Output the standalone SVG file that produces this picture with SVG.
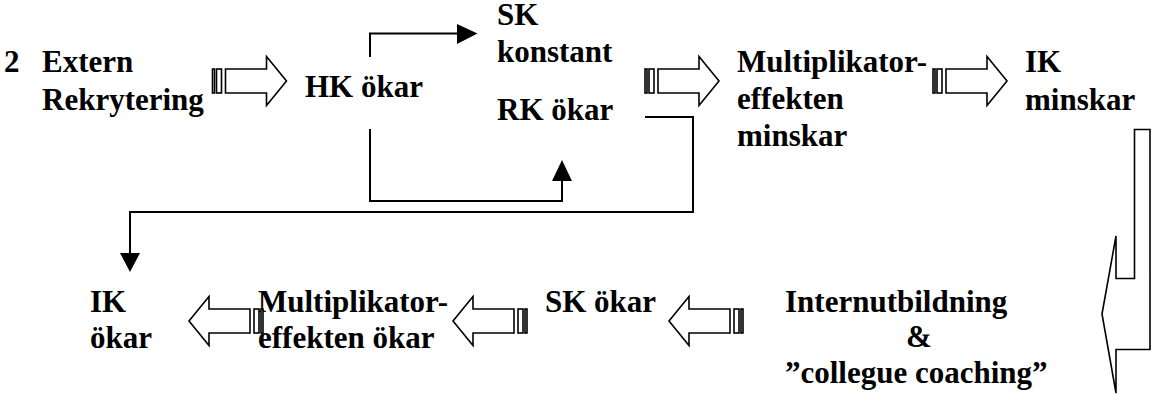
<svg xmlns="http://www.w3.org/2000/svg" xmlns:xlink="http://www.w3.org/1999/xlink" width="1152" height="394" viewBox="0 0 1152 394">
  <style>
    text { font-family: "Liberation Serif", serif; font-weight: 700; font-size: 31px; fill: #000; }
    .block { fill: #fff; stroke: #000; stroke-width: 1.6; stroke-linejoin: miter; }
    .conn { fill: none; stroke: #000; stroke-width: 2; }
    .head { fill: #000; stroke: none; }
  </style>
  <defs>
    <!-- striped block arrow, pointing right, origin at the tail stripes, centred on y=0 -->
    <g id="striped-arrow" class="block">
      <rect x="0" y="-12" width="2" height="24"/>
      <rect x="4" y="-12" width="5" height="24"/>
      <path d="M13,-12 H54 V-24.5 L74,0 L54,24.5 V12 H13 Z"/>
    </g>
  </defs>

  <rect width="1152" height="394" fill="#fff"/>

  <!-- top row -->
  <g id="extern">
    <text x="4" y="72">2</text>
    <text x="42" y="72">Extern</text>
    <text x="42" y="110">Rekrytering</text>
  </g>
  <g id="hk-okar">
    <text x="305" y="97">HK ökar</text>
  </g>
  <g id="sk-konstant">
    <text x="497" y="25">SK</text>
    <text x="497" y="62">konstant</text>
  </g>
  <g id="rk-okar">
    <text x="497" y="120">RK ökar</text>
  </g>
  <g id="mult-minskar">
    <text x="737" y="72">Multiplikator-</text>
    <text x="737" y="109">effekten</text>
    <text x="737" y="146">minskar</text>
  </g>
  <g id="ik-minskar">
    <text x="1025" y="72">IK</text>
    <text x="1025" y="110">minskar</text>
  </g>

  <!-- bottom row -->
  <g id="ik-okar">
    <text x="90" y="312">IK</text>
    <text x="90" y="348">ökar</text>
  </g>
  <g id="mult-okar">
    <text x="258" y="312">Multiplikator-</text>
    <text x="258" y="348">effekten ökar</text>
  </g>
  <g id="sk-okar">
    <text x="545" y="312">SK ökar</text>
  </g>
  <g id="internutbildning">
    <text x="785" y="312">Internutbildning</text>
    <text x="906" y="347">&amp;</text>
    <text x="785" y="383">”collegue coaching”</text>
  </g>

  <!-- connectors -->
  <g id="connectors">
    <use xlink:href="#striped-arrow" transform="translate(212.5,81)"/>
    <use xlink:href="#striped-arrow" transform="translate(645,81)"/>
    <use xlink:href="#striped-arrow" transform="translate(933,81)"/>

    <use xlink:href="#striped-arrow" transform="translate(263,321) scale(-1,1)"/>
    <use xlink:href="#striped-arrow" transform="translate(527,321) scale(-1,1)"/>
    <use xlink:href="#striped-arrow" transform="translate(743,321) scale(-1,1)"/>

    <!-- bent arrow from IK minskar down to Internutbildning -->
    <path class="block" d="M1134.5,129.5 H1150 V349.5 H1116 V393 L1102,314 L1116,236 V278.5 H1134.5 Z"/>

    <!-- HK ökar to SK konstant -->
    <path class="conn" d="M370,57 V33.5 H458"/>
    <polygon class="head" points="457,24 477.5,33.5 457,44"/>

    <!-- HK ökar to RK ökar -->
    <path class="conn" d="M370,129 V201 H562 V180"/>
    <polygon class="head" points="552,181 562,160 572,181"/>

    <!-- RK ökar to IK ökar -->
    <path class="conn" d="M645,117 H693 V212 H130 V254"/>
    <polygon class="head" points="120,253 140,253 130,272"/>
  </g>
</svg>
